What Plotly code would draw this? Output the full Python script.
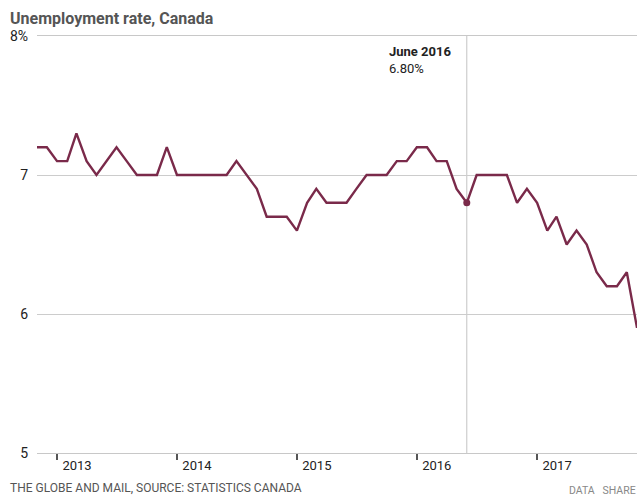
import pandas as pd
import plotly.graph_objects as go

# monthly unemployment rate, Nov 2012 - Nov 2017 (%)
rate = [7.2, 7.2,
        7.1, 7.1, 7.3, 7.1, 7.0, 7.1, 7.2, 7.1, 7.0, 7.0, 7.0, 7.2,
        7.0, 7.0, 7.0, 7.0, 7.0, 7.0, 7.1, 7.0, 6.9, 6.7, 6.7, 6.7,
        6.6, 6.8, 6.9, 6.8, 6.8, 6.8, 6.9, 7.0, 7.0, 7.0, 7.1, 7.1,
        7.2, 7.2, 7.1, 7.1, 6.9, 6.8, 7.0, 7.0, 7.0, 7.0, 6.8, 6.9,
        6.8, 6.6, 6.7, 6.5, 6.6, 6.5, 6.3, 6.2, 6.2, 6.3, 5.9]
start_month = "2012-11-01"
years = [2013, 2014, 2015, 2016, 2017]
y_ticks = [5, 6, 7, 8]
y_labels = ["5", "6", "7", "8%"]
highlight = "2016-06-01"

months = pd.date_range(start_month, periods=len(rate), freq="MS")
df = pd.DataFrame({"month": months, "rate": rate}).set_index("month")
hl_date = pd.Timestamp(highlight)
hl_val = df.loc[hl_date, "rate"]

line_color = "#7a2a4a"

fig = go.Figure()
fig.add_trace(go.Scatter(x=df.index, y=df["rate"], mode="lines",
                         line=dict(color=line_color, width=2.4), hoverinfo="skip"))
fig.add_trace(go.Scatter(x=[hl_date], y=[hl_val], mode="markers",
                         marker=dict(color=line_color, size=7), hoverinfo="skip"))

# crosshair at highlighted month
fig.add_shape(type="line", x0=hl_date, x1=hl_date, y0=y_ticks[0], y1=y_ticks[-1],
              line=dict(color="#c4c4c4", width=1), layer="below")

fig.add_annotation(x=hl_date, y=y_ticks[-1], xref="x", yref="y",
                   text="<b>June 2016</b><br>%.2f%%" % hl_val, showarrow=False,
                   xanchor="right", yanchor="top", align="left", xshift=-14, yshift=-6,
                   font=dict(family="Roboto", size=13, color="#222"))

# title / footer (paper coords are relative to the plot area)
fig.add_annotation(x=-0.048, y=1.07, xref="paper", yref="paper", text="<b>Unemployment rate, Canada</b>",
                   showarrow=False, xanchor="left", yanchor="top",
                   font=dict(family="Roboto", size=16, color="#555"))
fig.add_annotation(x=-0.048, y=-0.084, xref="paper", yref="paper",
                   text="THE GLOBE AND MAIL, SOURCE: STATISTICS CANADA",
                   showarrow=False, xanchor="left", yanchor="middle",
                   font=dict(family="Roboto", size=12, color="#555"))
fig.add_annotation(x=1.002, y=-0.089, xref="paper", yref="paper",
                   text="DATA&nbsp;&nbsp;&nbsp;SHARE",
                   showarrow=False, xanchor="right", yanchor="middle",
                   font=dict(family="Roboto", size=10.5, color="#888"))

fig.update_layout(width=640, height=503, showlegend=False,
                  plot_bgcolor="white", paper_bgcolor="white",
                  margin=dict(l=37, r=3, t=36, b=50))
fig.update_xaxes(range=[months[0], months[-1]], tickvals=[pd.Timestamp(f"{y}-01-01") for y in years],
                 ticktext=[str(y) for y in years], ticks="outside", ticklen=6, tickwidth=1.5,
                 tickcolor="#555", ticklabelposition="outside right", ticklabelshift=4, showgrid=False,
                 showline=True, mirror=True, linecolor="#c8c8c8", linewidth=1.2,
                 tickfont=dict(family="Roboto", size=13, color="#222"))
fig.update_yaxes(range=[y_ticks[0], y_ticks[-1]], tickvals=y_ticks, ticktext=y_labels,
                 showgrid=True, gridcolor="#cccccc", gridwidth=1, zeroline=False, ticks="",
                 ticklabelstandoff=8, tickfont=dict(family="Roboto", size=14, color="#222"))

fig.write_html("out.html", config={"displayModeBar": False},
               post_script="document.body.style.margin='0';")
